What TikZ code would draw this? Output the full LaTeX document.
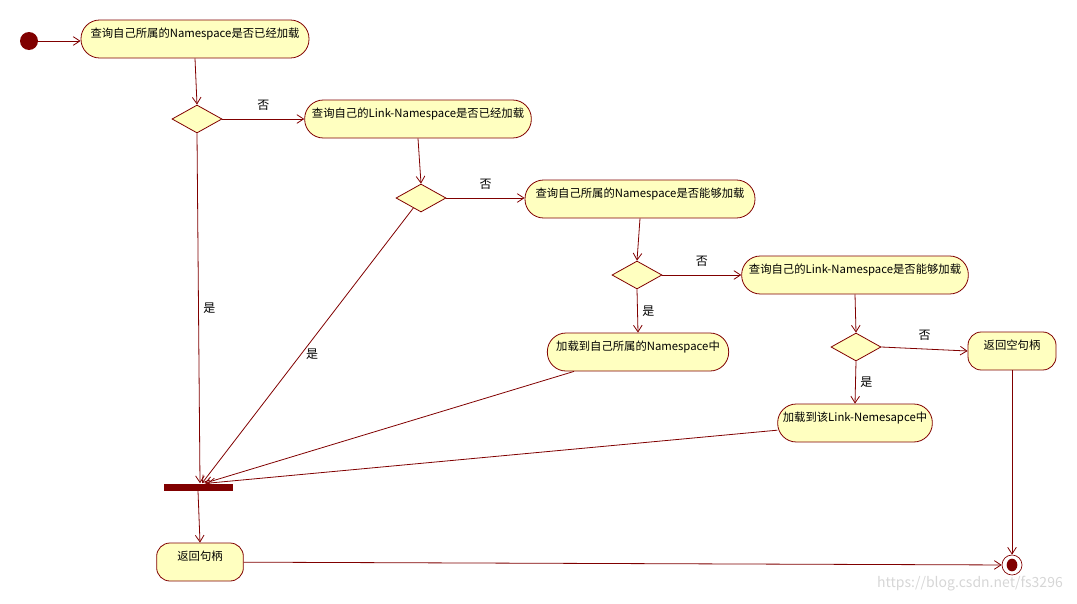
\documentclass[tikz,border=0pt]{standalone}
\usepackage{fontspec}
\setmainfont{Noto Sans CJK SC}
\usepackage{tikz}
\usetikzlibrary{arrows.meta,shapes.geometric}
\definecolor{umlline}{HTML}{800000}
\definecolor{umlfill}{HTML}{FFFFC0}
\definecolor{wmark}{HTML}{D6D6D6}

\begin{document}
\begin{tikzpicture}[
  x=0.75pt, y=-0.75pt,
  every node/.style={font=\fontsize{8.5}{10}\selectfont},
  action/.style={draw=umlline, line width=0.6pt, fill=umlfill, rounded corners=14pt,
               minimum height=28.5pt, text height=7pt, text depth=9pt, inner sep=2pt},
  shortaction/.style={action, rounded corners=10pt},
  choice/.style={draw=umlline, line width=0.6pt, fill=umlfill, diamond,
               minimum width=37.5pt, minimum height=21pt, inner sep=0pt},
  startdot/.style={circle, fill=umlline, minimum size=13.5pt, inner sep=0pt},
  endring/.style={circle, draw=umlline, line width=0.5pt, fill=white, minimum size=15pt, inner sep=0pt},
  enddot/.style={ellipse, fill=umlline, minimum width=8pt, minimum height=9.5pt, inner sep=0pt},
  joinbar/.style={rectangle, fill=umlline, minimum width=51.75pt, minimum height=5.25pt, inner sep=0pt},
  flow/.style={-{Straight Barb[length=5pt,width=6.5pt]}, line width=0.6pt, color=umlline},
  guard/.style={text=black, font=\fontsize{9}{10}\selectfont}
]
  \useasboundingbox (0,0) rectangle (1077,603);

  \node[startdot] (start) at (29,41) {};
  \node[action, minimum width=171pt] (n1) at (195,39) {查询自己所属的Namespace是否已经加载};
  \node[choice] (d1) at (197,119) {};
  \node[action, minimum width=170pt] (n2) at (418,119) {查询自己的Link-Namespace是否已经加载};
  \node[choice] (d2) at (421,198) {};
  \node[action, minimum width=172.5pt] (n3) at (640,199) {查询自己所属的Namespace是否能够加载};
  \node[choice] (d3) at (637,275) {};
  \node[action, minimum width=170pt] (n4) at (855,275) {查询自己的Link-Namespace是否能够加载};
  \node[action, minimum width=136pt] (n5) at (638,352) {加载到自己所属的Namespace中};
  \node[choice] (d4) at (856,347) {};
  \node[shortaction, minimum width=66pt] (n6) at (1012,351) {返回空句柄};
  \node[action, minimum width=116pt] (n7) at (855,423) {加载到该Link-Nemesapce中};
  \node[joinbar] (bar) at (198,487) {};
  \node[shortaction, minimum width=65pt] (n8) at (200,562) {返回句柄};
  \node[endring] (end) at (1012,565) {};
  \node[enddot] (endin) at (end) {};
  \node[text=wmark, font=\fontsize{10.5}{12}\selectfont] (wm) at (970,584) {https://blog.csdn.net/fs3296};

  \draw[flow] (start) -- (start -| n1.west);
  \draw[flow] (n1.south) -- (d1.north);
  \draw[flow] (d1.east) -- node[guard, above=3pt] {否} (d1.east -| n2.west);
  \draw[flow] (n2.south) -- (d2.north);
  \draw[flow] (d2.east) -- node[guard, above=3pt] {否} (d2.east -| n3.west);
  \draw[flow] (n3.south) -- (d3.north);
  \draw[flow] (d3.east) -- node[guard, above=3pt] {否} (d3.east -| n4.west);
  \draw[flow] (d3.south) -- node[guard, right] {是} (n5.north);
  \draw[flow] (n4.south) -- (d4.north);
  \draw[flow] (d4.east) -- node[guard, above=3pt] {否} (n6.west);
  \draw[flow] (d4.south) -- node[guard, right] {是} (n7.north);
  \draw[flow] (d1.south) -- node[guard, right] {是} ([xshift=1.5pt]bar.north);
  \draw[flow] (d2) -- node[guard, right, pos=0.53] {是} ([xshift=3pt]bar.north);
  \draw[flow] (n5) -- ([xshift=5pt]bar.north);
  \draw[flow] (n7) -- ([xshift=7pt]bar.north);
  \draw[flow] (bar.south) -- (n8.north);
  \draw[flow] (n8) -- (end);
  \draw[flow] (n6.south) -- (end.north);
\end{tikzpicture}
\end{document}
